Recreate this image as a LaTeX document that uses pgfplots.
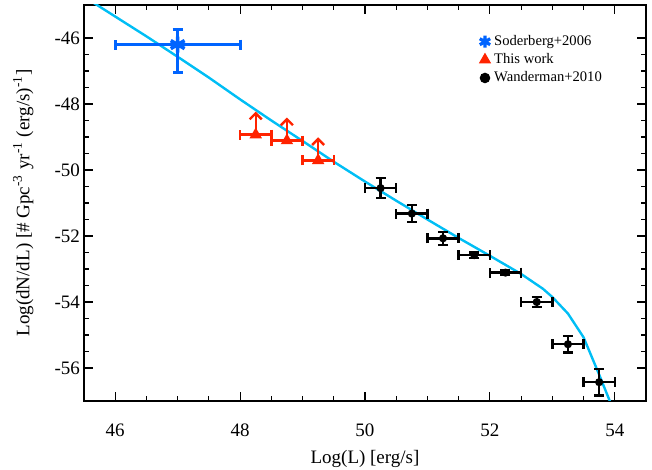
\documentclass[border=0pt]{standalone}
\usepackage{fontspec}
\setmainfont{Liberation Serif}
\usepackage{pgfplots}
\pgfplotsset{compat=1.18}
\usetikzlibrary{arrows.meta}
\definecolor{curve}{RGB}{0,190,245}
\definecolor{sodblue}{RGB}{0,100,255}
\definecolor{redpt}{RGB}{255,35,0}
\begin{document}
\begin{tikzpicture}
\begin{axis}[
 at={(0,0)}, anchor=south west,
 scale only axis, width=281pt, height=198pt,
 xmin=45.5, xmax=54.5, ymin=-57, ymax=-45,
 xtick={46,48,...,54}, ytick={-56,-54,...,-46},
 minor x tick num=3, minor y tick num=3,
 tick align=inside, major tick length=4.5pt, minor tick length=2.5pt,
 every tick/.style={black, line width=0.6pt},
 axis line style={line width=0.8pt},
 /pgf/number format/assume math mode=true,
 ticklabel style={font=\fontsize{9.5}{11}\selectfont},
 xticklabel style={yshift=-8pt},
 yticklabel style={xshift=1.5pt},
 label style={font=\fontsize{9.5}{11}\selectfont},
 xlabel={Log(L) [erg/s]},
 ylabel={Log(dN/dL) [\# Gpc\textsuperscript{-3} yr\textsuperscript{-1} (erg/s)\textsuperscript{-1}]},
 x label style={at={(axis description cs:0.5,-0.146)}, anchor=center},
 y label style={at={(axis description cs:-0.108,0.5)}, anchor=center},
 legend style={draw=none, fill=none, at={(axis description cs:0.70,0.94)}, anchor=north west,
   font=\fontsize{7.3}{8}\selectfont, row sep=-1.5pt, inner sep=1pt},
 legend cell align=left,
 clip=true,
]
% model curve
\addplot[curve, line width=1.2pt, forget plot] coordinates {
 (45.6,-44.87) (46.0,-45.35) (46.5,-45.95) (47.0,-46.57) (47.5,-47.2)
 (48.0,-47.86) (48.5,-48.5) (49.0,-49.12) (49.5,-49.75) (50.0,-50.35)
 (50.5,-50.93) (51.0,-51.5) (51.5,-52.06) (52.0,-52.6) (52.5,-53.15)
 (52.85,-53.6) (53.0,-53.85) (53.25,-54.35) (53.5,-55.07) (53.75,-56.2)
 (53.92,-57.0) (53.95,-57.15)
};
% Soderberg
\addplot[sodblue, line width=1.5pt, only marks, mark=asterisk, mark size=4pt,
  mark options={line width=1.8pt},
  legend image post style={mark size=3pt, mark options={line width=1.6pt}},
  error bars/.cd, x dir=both, x explicit, y dir=both, y explicit,
  error bar style={line width=1.5pt}, error mark options={line width=1.5pt, mark size=2.5pt, rotate=90}]
  coordinates { (47,-46.2) += (1,0.45) -= (1,0.85) };
\addlegendentry{Soderberg+2006}
% This work
\addplot[redpt, line width=1.2pt, only marks, mark=triangle*, mark size=2.4pt,
  legend image post style={mark size=2.4pt},
  error bars/.cd, x dir=both, x explicit,
  error bar style={line width=1.2pt}, error mark options={line width=1.2pt, mark size=2.5pt, rotate=90}]
  coordinates { (48.25,-48.93) +- (0.25,0) (48.75,-49.11) +- (0.25,0) (49.25,-49.71) +- (0.25,0) };
\addlegendentry{This work}
\addplot[redpt, line width=1.2pt, forget plot, quiver={u=0, v=0.7}, -{Straight Barb[length=3pt,width=6pt]}]
  coordinates { (48.25,-48.93) (48.75,-49.11) (49.25,-49.71) };
% Wanderman
\addplot[black, line width=1.2pt, only marks, mark=*, mark size=1.4pt,
  legend image post style={mark size=2pt},
  error bars/.cd, x dir=both, x explicit, y dir=both, y explicit,
  error bar style={line width=1.2pt}, error mark options={line width=1.2pt, mark size=2.5pt, rotate=90}]
  coordinates {
  (50.25,-50.55) +- (0.25,0.3)
  (50.75,-51.32) +- (0.25,0.26)
  (51.25,-52.07) +- (0.25,0.2)
  (51.75,-52.58) +- (0.25,0.08)
  (52.25,-53.11) +- (0.25,0.08)
  (52.75,-54.00) +- (0.25,0.15)
  (53.25,-55.28) +- (0.25,0.25)
  (53.75,-56.43) +- (0.25,0.4)
  };
\addlegendentry{Wanderman+2010}
\end{axis}
\pgfresetboundingbox
\useasboundingbox (-42pt,-34.5pt) rectangle (284pt,200.5pt);
\end{tikzpicture}
\end{document}
